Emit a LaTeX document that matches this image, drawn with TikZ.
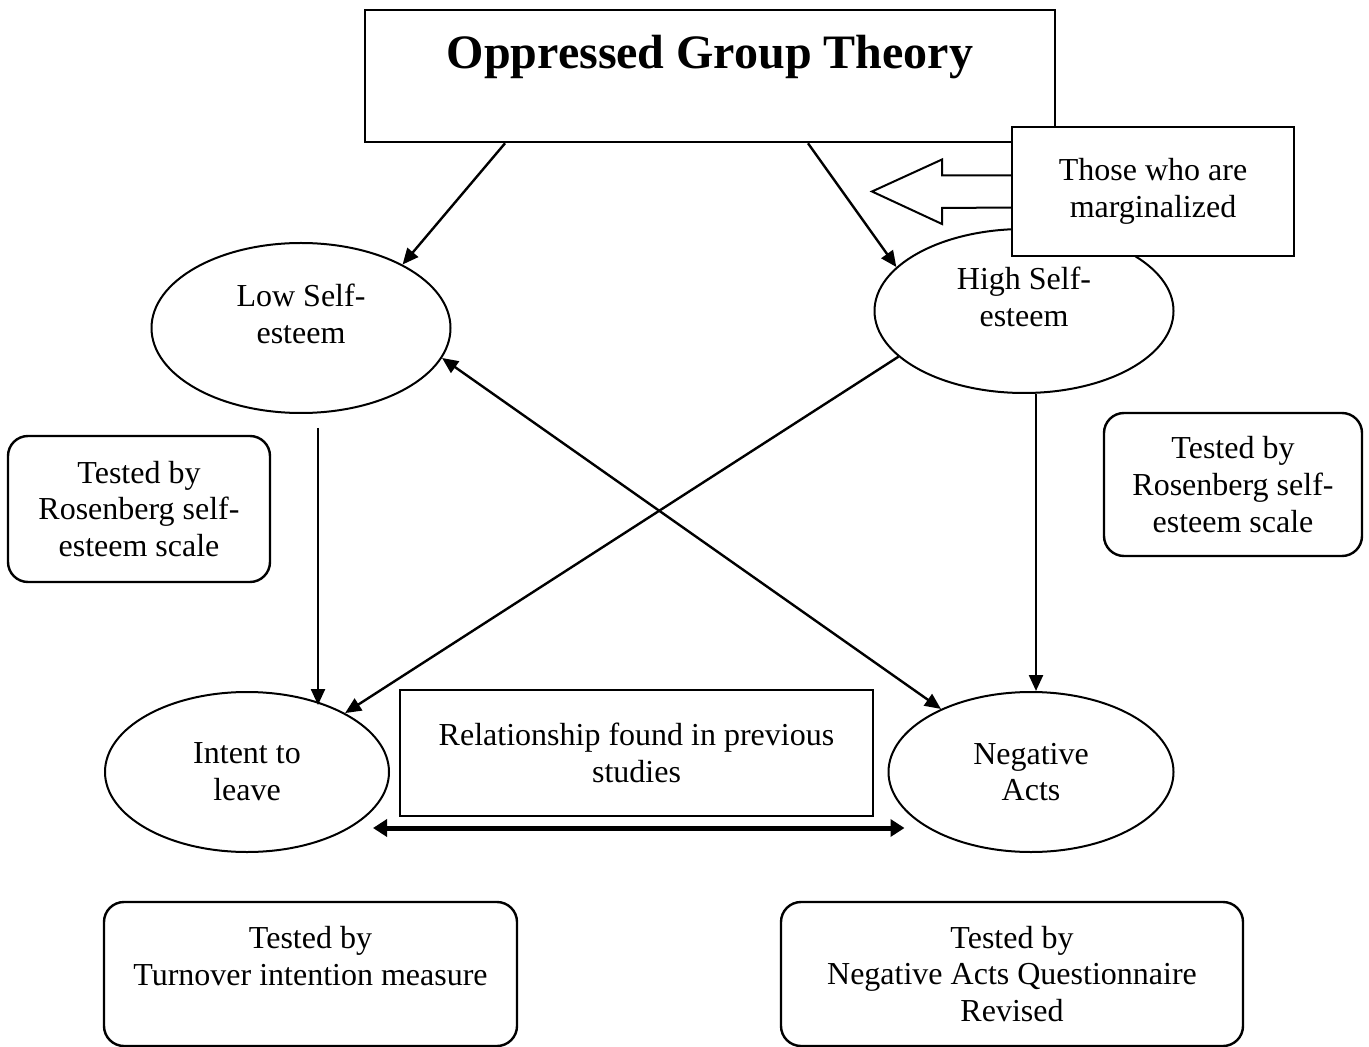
\documentclass[tikz,border=0pt]{standalone}
\usepackage{fontspec}
\setmainfont{Liberation Serif}
\usepackage{xcolor}
\usepackage{tikz}
\usetikzlibrary{shapes,arrows.meta}

\begin{document}
\begin{tikzpicture}[
      x=0.5pt, y=-0.5pt,
      inside/.style={font=\fontsize{16}{18.4}\selectfont, align=center},
      box/.style={rectangle, draw, fill=white, line width=1pt, inside},
      oval/.style={ellipse, draw, line width=1pt, inside},
      tested/.style={rectangle, draw, rounded corners=10pt, line width=1.2pt, inside},
      arrow/.style={line width=1.2pt, -{Triangle[length=8pt,width=7pt]}},
      biarrow/.style={line width=1.2pt, {Triangle[length=8pt,width=7pt]}-{Triangle[length=8pt,width=7pt]}},
      fatarrow/.style={line width=2.5pt, {Triangle[length=7pt,width=8.5pt]}-{Triangle[length=7pt,width=8.5pt]}}
    ]
      \useasboundingbox (0,0) rectangle (1369,1047);

      \node [box, line width=1.3pt, minimum width=345pt, minimum height=66pt,
        label={[font=\fontsize{24}{28}\selectfont\bfseries, anchor=base, yshift=9.5pt]center:Oppressed Group Theory}] (theory) at (710,76) {};

      \node [oval, minimum width=149.5pt, minimum height=85pt,
        label={[inside, yshift=7pt]center:Low Self-\\esteem}] (low) at (301,328) {};
      \node [oval, minimum width=149.5pt, minimum height=82pt,
        label={[inside, yshift=7pt]center:High Self-\\esteem}] (high) at (1024,311) {};
      \node [oval, minimum width=142pt, minimum height=80pt] (intent) at (247,772) {Intent to\\leave};
      \node [oval, minimum width=142.5pt, minimum height=80pt] (negacts) at (1031,772) {Negative\\Acts};

      % marginalized note with hollow arrow
      \draw [line width=1pt, fill=white] ([yshift=8pt]1012,191.5) -- ++(-70,0) -- ++(0,-16)
        -- (872,191.5) -- ++(70,32.5) -- ++(0,-16) -- ([yshift=-8pt]1012,191.5);
      \node [box, minimum width=141pt, minimum height=64.5pt] (marginal) at (1153,191.5) {Those who are\\marginalized};

      \node [box, minimum width=236.5pt, minimum height=63pt] (previous) at (636.5,753) {Relationship found in previous\\studies};

      \node [tested, minimum width=131pt, minimum height=73pt] (rosenleft) at (139,509) {Tested by\\Rosenberg self-\\esteem scale};
      \node [tested, minimum width=129pt, minimum height=71.5pt] (rosenright) at (1233,484.5) {Tested by\\Rosenberg self-\\esteem scale};
      \node [tested, minimum width=206.5pt, minimum height=72pt,
        label={[inside, yshift=9pt]center:Tested by\\Turnover intention measure}] (turnover) at (310.5,974) {};
      \node [tested, minimum width=231pt, minimum height=72pt] (naqr) at (1012,974) {Tested by\\Negative Acts Questionnaire\\Revised};

      \draw [arrow] ([xshift=-102.5pt]theory.south) -- (low.32);
      \draw [arrow] ([xshift=49pt]theory.south) -- (high.161);
      \draw [arrow] ([xshift=8.5pt,yshift=-7pt]low.south) -- ([xshift=8.5pt,yshift=-7pt]low.south |- intent.north);
      \draw [arrow] ([xshift=6pt]high.south) -- ([xshift=6pt]high.south |- negacts.north);
      \draw [arrow] (high.200) -- (intent.31);
      \draw [biarrow] (low.-12) -- (negacts.145);
      \draw [fatarrow] ([xshift=-8.5pt,yshift=-28pt]intent.east) -- ([xshift=8.5pt,yshift=-28pt]negacts.west);
    \end{tikzpicture}
\end{document}
